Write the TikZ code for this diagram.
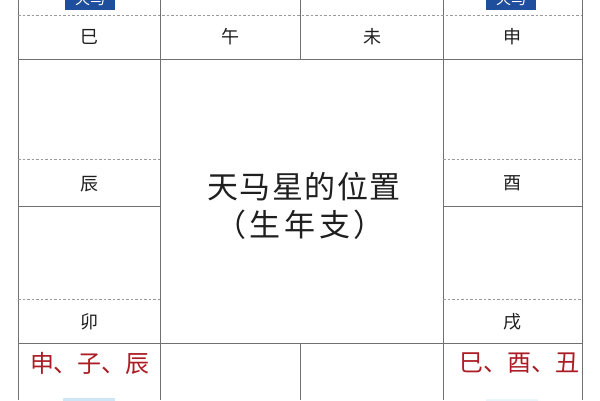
\documentclass[tikz,border=0pt]{standalone}
\usepackage{fontspec}
\newfontfamily\cjk{Noto Sans CJK SC}
\definecolor{gridline}{HTML}{707070}
\definecolor{dashline}{HTML}{9A9A9A}
\definecolor{tagblue}{HTML}{1F4E9C}
\definecolor{paleblue}{HTML}{CFE6F6}
\definecolor{redtext}{HTML}{AC1C24}
\tikzset{
  solidline/.style={draw=gridline, line width=0.9pt},
  dashline/.style={draw=dashline, line width=0.8pt, dash pattern=on 2.5pt off 2pt},
  branch/.style={font=\cjk\fontsize{18}{20}\selectfont, text=black!88, inner sep=0pt},
  title/.style={font=\cjk\fontsize{31}{36}\selectfont, text=black!88, inner sep=0pt, align=center},
  redlabel/.style={font=\cjk\fontsize{24}{28}\selectfont, text=redtext, inner sep=0pt},
  tag/.style={fill=tagblue, text=white, font=\cjk\fontsize{15}{17}\selectfont, minimum width=50pt, minimum height=22pt, inner sep=0pt},
  paletag/.style={fill=paleblue, minimum width=52pt, minimum height=22pt, inner sep=0pt}
}
\begin{document}
\begin{tikzpicture}[x=1pt,y=-1pt]
\useasboundingbox (0,0) rectangle (600,400);
\fill[white] (0,0) rectangle (600,400);
\begin{scope}
\clip (0,0) rectangle (600,400);
% tags cut by the frame, as in the reference
\node[tag] (tagL) at (90,-1) {天马};
\node[tag] (tagR) at (511,-1) {天马};
\node[paletag] (paleL) at (89,409) {};
\node[paletag, fill=paleblue!45] (paleR) at (512,410) {};
% vertical lines
\draw[solidline] (18,0) -- (18,400);
\draw[solidline] (582,0) -- (582,400);
\draw[solidline] (160,0) -- (160,400);
\draw[solidline] (443,0) -- (443,400);
\draw[solidline] (300,0) -- (300,59);
\draw[solidline] (300,343) -- (300,400);
% horizontal lines
\draw[dashline] (18,15) -- (582,15);
\draw[solidline] (18,59) -- (582,59);
\draw[dashline] (18,159) -- (160,159);
\draw[dashline] (443,159) -- (582,159);
\draw[solidline] (18,206) -- (160,206);
\draw[solidline] (443,206) -- (582,206);
\draw[dashline] (18,299) -- (160,299);
\draw[dashline] (443,299) -- (582,299);
\draw[solidline] (18,343) -- (582,343);
\end{scope}
% branch labels
\node[branch] (si) at (89,37) {巳};
\node[branch] (wu) at (230,37) {午};
\node[branch] (wei) at (372,37) {未};
\node[branch] (shen) at (512,37) {申};
\node[branch] (chen) at (89,184) {辰};
\node[branch] (you) at (512,183) {酉};
\node[branch] (mao) at (89,322) {卯};
\node[branch] (xu) at (512,322) {戌};
% centre title
\node[title] (title1) at (304,187) {天\kern1.5pt 马\kern1.5pt 星\kern1.5pt 的\kern1.5pt 位\kern1.5pt 置};
\node[title] (title2) at (300,225) {（\kern3pt 生\kern4pt 年\kern4pt 支\kern3pt ）};
% red groups
\node[redlabel] (groupL) at (90,363) {申、子、辰};
\node[redlabel] (groupR) at (519,363) {巳、酉、丑};
\end{tikzpicture}
\end{document}
